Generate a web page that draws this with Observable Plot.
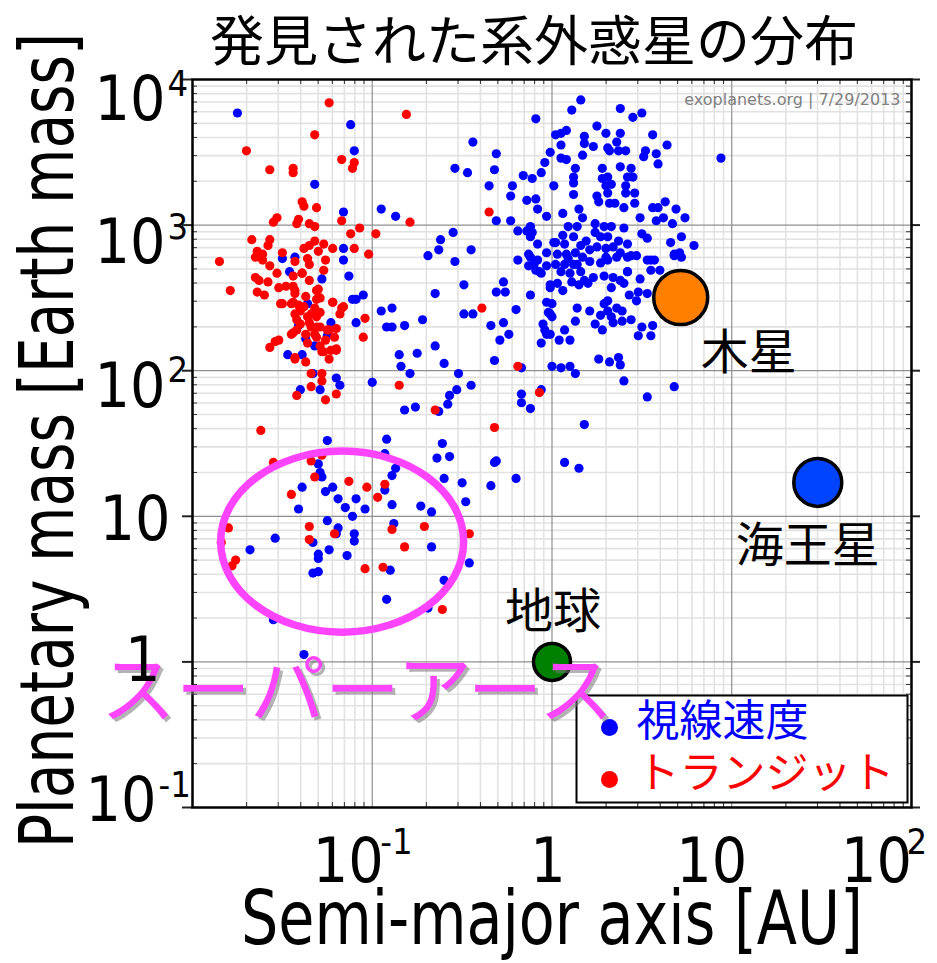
<!DOCTYPE html>
<html><head><meta charset="utf-8">
<script src="https://cdn.jsdelivr.net/npm/d3@7"></script>
<script src="https://cdn.jsdelivr.net/npm/@observablehq/plot@0.6"></script>
<style>
html,body{margin:0;padding:0;background:#fff;}
#chart{width:937px;height:963px;}
</style></head><body><div id="chart"></div>
<script>
// ---------- DATA ----------
// Each point: [log10 semi-major axis (AU), log10 planetary mass (Earth masses)]
const radialVelocityPoints = [
[-1.75,3.77],[-1.12,3.69],[-1.10,3.51],[-1.32,3.28],[-1.16,3.09],[-0.95,3.11],[-0.87,3.06],[-1.16,2.84],[-1.16,2.76],[-1.13,2.65],
[-1.43,2.78],[-1.50,2.77],[-1.46,2.68],[-1.28,2.63],[-1.05,2.52],[-1.11,2.49],[-1.09,2.49],[-1.36,2.46],[-1.23,2.33],[-1.25,2.24],
[-1.41,2.31],[-1.37,2.22],[-1.32,2.17],[-1.47,2.11],[-1.39,2.11],[-1.09,2.33],[-0.95,2.41],[-0.89,2.43],[-0.92,2.30],[-0.89,2.30],
[-0.82,2.31],[-0.72,2.35],[-0.65,2.53],[-0.69,2.79],[-0.63,2.83],[-0.62,2.90],[-0.55,2.95],[-0.54,2.75],[-0.45,2.83],[-0.49,2.59],
[-0.49,2.39],[-0.44,2.39],[-0.65,2.17],[-0.75,2.12],[-0.85,2.11],[-0.84,2.03],[-0.79,1.98],[-0.60,2.05],[-0.52,1.98],[-0.45,1.90],
[-0.53,1.87],[-0.57,1.83],[-0.58,1.77],[-0.63,1.72],[-0.76,1.75],[-0.82,1.73],[-1.00,1.92],[-1.20,1.95],[-1.18,1.90],[-1.29,1.87],
[-1.33,1.98],[-1.40,1.87],[-0.54,3.39],[-0.47,3.36],[-0.44,3.57],[-0.31,3.49],[-0.32,3.38],[-0.35,3.27],[-0.22,3.27],[-0.23,3.20],
[-0.31,3.03],[-0.23,3.03],[-0.09,3.73],[-0.19,2.76],[-0.12,2.52],[-0.27,2.61],[-0.31,2.54],[-0.26,2.54],[-0.20,2.42],[-0.27,2.33],
[-0.34,2.31],[-0.24,2.25],[-0.29,2.21],[-0.32,2.07],[-0.17,2.02],[-0.17,1.84],[-0.17,1.78],[-0.12,1.74],[-0.06,1.87],[-0.06,2.19],
[0.00,2.03],[-0.16,3.34],[-0.11,3.32],[-0.06,3.36],[-0.14,3.17],[-0.08,3.11],[-0.03,3.06],[0.01,3.27],[-0.04,3.43],[-0.01,3.50],
[-0.14,2.96],[-0.19,2.96],[-0.12,2.92],[-0.08,2.87],[-0.03,2.81],[-0.13,2.80],[-0.10,2.73],[-0.07,2.68],[0.01,2.88],[-0.01,2.57],
[-0.03,2.47],[-0.01,2.39],[-0.05,2.32],[-0.03,2.25],[-0.92,1.53],[-1.25,1.52],[0.16,3.86],[0.11,3.79],[0.38,3.80],[0.45,3.74],
[0.50,3.77],[0.25,3.68],[0.08,3.65],[0.05,3.63],[0.02,3.62],[0.18,3.61],[0.30,3.63],[0.38,3.63],[0.36,3.57],[0.56,3.62],
[0.64,3.55],[0.18,3.56],[0.23,3.54],[0.31,3.53],[0.32,3.51],[0.37,3.51],[0.41,3.51],[0.52,3.51],[0.51,3.47],[0.58,3.49],
[0.59,3.42],[0.05,3.55],[0.05,3.46],[0.08,3.45],[0.17,3.48],[0.13,3.39],[0.12,3.33],[0.12,3.29],[0.12,3.21],[0.28,3.39],
[0.38,3.40],[0.44,3.39],[0.28,3.32],[0.31,3.33],[0.33,3.28],[0.30,3.27],[0.42,3.33],[0.45,3.33],[0.41,3.27],[0.41,3.22],
[0.46,3.22],[0.25,3.20],[0.31,3.22],[0.26,3.16],[0.32,3.15],[0.35,3.15],[0.40,3.12],[0.46,3.15],[-0.09,3.18],[0.06,3.08],
[0.15,3.11],[0.17,3.05],[0.56,3.12],[0.63,3.16],[0.59,3.12],[0.69,3.11],[0.74,3.05],[0.67,3.01],[0.62,3.05],[0.58,3.03],
[0.49,3.05],[0.72,2.92],[0.79,2.86],[0.66,2.88],[0.68,2.80],[0.71,2.81],[0.50,2.94],[0.53,2.91],[0.44,2.79],[0.47,2.79],
[0.55,2.76],[-0.12,2.99],[-0.11,2.95],[0.02,2.88],[0.06,2.93],[0.09,2.99],[0.14,2.99],[0.07,2.87],[0.12,2.92],[0.16,2.86],
[0.19,2.89],[0.24,3.01],[0.24,2.95],[0.29,2.99],[0.33,2.99],[0.40,2.98],[0.27,2.92],[0.31,2.92],[0.37,2.89],[0.42,2.87],
[0.21,2.83],[0.25,2.85],[0.30,2.84],[0.34,2.85],[0.38,2.81],[0.03,2.80],[0.08,2.80],[0.13,2.81],[0.17,2.78],[0.02,2.73],
[0.07,2.73],[0.12,2.73],[0.21,2.75],[0.27,2.74],[0.31,2.76],[-0.12,2.78],[-0.08,2.76],[-0.13,2.72],[-0.03,2.72],[-0.09,2.69],
[-0.06,2.67],[0.09,2.77],[0.14,2.73],[0.30,2.78],[0.36,2.78],[0.42,2.78],[0.53,2.76],[0.57,2.76],[0.60,2.69],[0.55,2.69],
[0.68,2.79],[0.05,2.68],[0.10,2.67],[0.16,2.68],[0.18,2.62],[0.23,2.64],[0.29,2.65],[0.34,2.64],[0.38,2.62],[0.42,2.68],
[0.49,2.63],[-0.01,2.59],[0.03,2.60],[0.06,2.55],[0.11,2.61],[0.15,2.59],[0.20,2.60],[0.33,2.57],[0.40,2.60],[0.43,2.52],
[0.48,2.54],[0.53,2.53],[0.47,2.48],[0.00,2.46],[-0.02,2.40],[0.00,2.37],[-0.04,2.28],[-0.01,2.25],[0.04,2.21],[0.07,2.28],
[0.10,2.21],[0.14,2.43],[0.13,2.34],[0.21,2.41],[0.24,2.32],[0.28,2.28],[0.27,2.38],[0.29,2.46],[0.31,2.48],[0.31,2.41],
[0.33,2.37],[0.36,2.43],[0.39,2.41],[0.34,2.33],[0.39,2.34],[0.44,2.35],[0.50,2.30],[0.56,2.31],[0.55,2.24],[0.48,2.24],
[0.26,2.08],[0.32,2.06],[0.37,2.09],[0.38,2.04],[0.05,2.02],[0.10,2.03],[0.13,1.98],[0.40,1.93],[0.53,1.82],[0.68,1.89],
[0.18,1.63],[-0.32,1.37],[-0.31,1.38],[0.07,1.37],[0.15,1.33],[-0.20,1.26],[0.94,3.46],[0.72,2.78],[0.42,2.68],[-0.61,1.50],
[-0.64,1.40],[-0.57,1.41],[-0.87,1.33],[-0.89,1.28],[-0.60,1.26],[-0.93,1.43],[-1.30,1.36],[-1.29,1.30],[-1.28,1.27],[-1.39,1.20],
[-1.26,1.17],[-1.22,1.20],[-1.19,1.12],[-1.09,1.12],[-1.15,1.06],[-1.04,1.05],[-1.11,1.00],[-0.93,1.18],[-0.89,1.08],[-0.73,1.07],
[-0.67,1.03],[-1.41,1.05],[-1.25,0.97],[-1.19,0.92],[-1.20,0.88],[-1.10,0.88],[-1.10,0.83],[-1.33,0.82],[-1.54,0.85],[-1.68,0.77],
[-1.24,0.77],[-1.30,0.74],[-1.30,0.71],[-1.14,0.73],[-1.33,0.61],[-1.30,0.62],[-0.88,0.95],[-0.67,0.79],[-0.46,0.68],[-0.90,0.63],
[-0.60,0.56],[-0.92,0.43],[-0.69,0.37],[-1.55,0.29],[-0.50,1.23],[-0.48,1.10],[-0.34,1.21],[-1.38,0.05]
];
const transitPoints = [
[-1.24,3.84],[-0.81,3.76],[-1.70,3.51],[-1.32,3.62],[-1.57,3.38],[-1.44,3.39],[-1.44,3.36],[-1.17,3.45],[-1.10,3.43],[-1.11,3.39],
[-1.39,3.16],[-1.38,3.13],[-1.31,3.12],[-1.53,3.05],[-1.55,3.02],[-1.41,3.04],[-1.42,3.01],[-1.35,3.01],[-1.32,2.99],[-1.17,3.03],
[-1.07,2.98],[-1.12,2.94],[-0.98,2.94],[-0.79,3.02],[-1.02,2.80],[-1.10,2.84],[-1.67,2.90],[-1.57,2.90],[-1.58,2.86],[-1.64,2.82],
[-1.61,2.80],[-1.65,2.78],[-1.61,2.76],[-1.85,2.75],[-1.50,2.81],[-1.43,2.75],[-1.36,2.77],[-1.35,2.86],[-1.32,2.89],[-1.38,2.84],
[-1.27,2.87],[-1.22,2.84],[-1.30,2.82],[-1.26,2.76],[-1.27,2.69],[-1.57,2.72],[-1.53,2.67],[-1.65,2.64],[-1.63,2.62],[-1.58,2.61],
[-1.44,2.65],[-1.39,2.67],[-1.35,2.62],[-1.79,2.55],[-1.64,2.54],[-1.60,2.52],[-1.52,2.57],[-1.51,2.46],[-1.48,2.58],[-1.43,2.55],
[-1.31,2.55],[-1.29,2.50],[-1.22,2.47],[-1.16,2.44],[-1.18,2.39],[-1.04,2.36],[-1.05,2.23],[-1.45,2.46],[-1.41,2.45],[-1.38,2.44],
[-1.32,2.43],[-1.43,2.39],[-1.36,2.37],[-1.31,2.37],[-1.40,2.32],[-1.34,2.30],[-1.29,2.30],[-1.32,2.25],[-1.25,2.28],[-1.20,2.29],
[-1.21,2.23],[-1.45,2.25],[-1.42,2.28],[-1.36,2.19],[-1.29,2.17],[-1.23,2.14],[-1.27,2.13],[-1.20,2.14],[-1.24,2.08],[-1.57,2.16],
[-1.54,2.20],[-1.52,2.21],[-1.43,2.09],[-1.37,2.06],[-1.34,1.98],[-1.28,1.98],[-1.28,1.93],[-1.34,1.89],[-1.42,1.83],[-1.26,1.80],
[-1.20,1.84],[-0.39,2.43],[-0.35,3.09],[-0.85,1.90],[-0.65,1.73],[-0.19,2.03],[-0.07,1.85],[-0.32,1.61],[-1.62,1.59],[-1.55,1.37],
[-1.34,1.38],[-1.28,1.42],[-1.32,1.27],[-1.13,1.24],[-1.03,1.20],[-0.93,1.22],[-0.97,1.13],[-1.45,1.15],[-1.35,0.93],[-1.35,0.84],
[-1.21,0.88],[-0.89,0.91],[-0.71,0.93],[-0.82,0.79],[-0.46,0.88],[-1.80,0.92],[-1.76,0.70],[-1.78,0.66],[-1.04,0.64],[-0.94,0.65],
[-0.61,0.36],[-1.84,0.82],
[-1.44,2.58],[-1.39,2.67],[-1.30,2.56],[-1.43,2.53],[-1.37,2.51],[-1.31,2.49],[-1.50,2.46],[-1.44,2.47],[-1.40,2.41],[-1.34,2.39],
[-1.29,2.40],[-1.22,2.47],[-1.17,2.43],[-1.42,2.35],[-1.35,2.33],[-1.31,2.30],[-1.24,2.28],[-1.37,2.25],[-1.31,2.23],[-1.26,2.21],
[-1.44,2.26],[-1.28,2.13],[-1.20,2.15],[-1.43,2.08],[-1.35,2.73]
];
// Solar-system reference planets
const planetNames = ["木星", "海王星", "地球"];
const planetA = [5.2, 30.1, 1.0];        // AU
const planetM = [317.8, 17.1, 1.0];      // Earth masses
const planetColors = ["#ff8000", "#0044ff", "#008000"];
// Super-Earth annotation (center of the ellipse)
const superEarthLabel = "スーパーアース";
const superEarthA = 0.068, superEarthM = 6.7;
// Axis ticks
const xTickValues = [0.1, 1, 10, 100];
const xTickBase = ["10", "1", "10", "10"];
const xTickExp = ["-1", "", "", "2"];
const yTickValues = [1e4, 1e3, 1e2, 10, 1, 0.1];
const yTickBase = ["10", "10", "10", "10", "1", "10"];
const yTickExp = ["4", "3", "2", "", "", "-1"];
const titleText = "発見された系外惑星の分布";
const xTitle = "Semi-major axis [AU]";
const yTitle = "Planetary mass [Earth mass]";
const sourceText = "exoplanets.org | 7/29/2013";
const legendLabels = ["視線速度", "トランジット"];

// ---------- LAYOUT / STYLE ----------
const BLUE = "#0000ff", RED = "#ff0000", MAGENTA = "#ff44ff";
const LATIN = '"Liberation Sans Narrow", "Arial Narrow", "DejaVu Sans Condensed", "Liberation Sans", sans-serif';
const CJK = '"Noto Sans CJK JP", "Noto Sans CJK SC", sans-serif';
const mL = 192, mR = 26, mT = 79, mB = 156, W = 937, H = 963;
const fw = W - mL - mR, fh = H - mT - mB;
const planetR = [27, 24, 18.5];
const planetLabelDx = [68, -10, 1];
const planetLabelDy = [56, 64, -49];
const xBaseDx = [-24, -4, -20, -35];
const xExpDx = [8, 0, 0, -5];
const yBaseDx = [-27, -27, -27, -22, -32, -36];
const yExpDx = [-25, -25, -25, 0, 0, -34];
const yBaseDy = [21, 18, 16, 4, -1, -6];
const mid = {lineAnchor: "middle"};

const toPoint = ([la, lm]) => ({a: 10 ** la, m: 10 ** lm});
const rv = radialVelocityPoints.map(toPoint);
const tr = transitPoints.map(toPoint);

const decadesX = d3.range(-2, 2), decadesY = d3.range(-1, 4);
const minorX = decadesX.flatMap(e => d3.range(2, 10).map(k => k * 10 ** e));
const minorY = decadesY.flatMap(e => d3.range(2, 10).map(k => k * 10 ** e));
const majorX = [0.01, 0.1, 1, 10, 100];
const majorY = [0.1, 1, 10, 100, 1000, 10000];

// ellipse symbol for the annotation
const ellipseSymbol = {
  draw(context, size) {
    const rx = Math.sqrt(size / Math.PI), ry = rx * 0.745, k = 0.5522847498;
    context.moveTo(rx, 0);
    context.bezierCurveTo(rx, k * ry, k * rx, ry, 0, ry);
    context.bezierCurveTo(-k * rx, ry, -rx, k * ry, -rx, 0);
    context.bezierCurveTo(-rx, -k * ry, -k * rx, -ry, 0, -ry);
    context.bezierCurveTo(k * rx, -ry, rx, -k * ry, rx, 0);
    context.closePath();
  }
};

const marks = [
  Plot.ruleX(minorX, {stroke: "#e2e2e2", strokeWidth: 1.6}),
  Plot.ruleY(minorY, {stroke: "#e2e2e2", strokeWidth: 1.6}),
  Plot.ruleX(majorX, {stroke: "#8f8f8f", strokeWidth: 1.2}),
  Plot.ruleY(majorY, {stroke: "#8f8f8f", strokeWidth: 1.2}),
  Plot.tickX(minorX, {x: d => d, insetBottom: fh - 5, stroke: "#333"}),
  Plot.tickX(minorX, {x: d => d, insetTop: fh - 5, stroke: "#333"}),
  Plot.tickY(minorY, {y: d => d, insetRight: fw - 5, stroke: "#333"}),
  Plot.tickY(minorY, {y: d => d, insetLeft: fw - 5, stroke: "#333"}),
  Plot.tickY(majorY, {y: d => d, insetLeft: -10, insetRight: fw, stroke: "#222", strokeWidth: 2}),
  Plot.tickY(majorY, {y: d => d, insetLeft: fw, insetRight: -9, stroke: "#222", strokeWidth: 2}),
  Plot.frame({stroke: "black", strokeWidth: 2.5}),
  Plot.dot(rv, {x: "a", y: "m", r: 4.6, fill: BLUE}),
  Plot.dot(tr, {x: "a", y: "m", r: 4.6, fill: RED}),
  Plot.dot([{a: superEarthA, m: superEarthM}], {x: "a", y: "m", r: 121.5, symbol: ellipseSymbol, fill: "none", stroke: MAGENTA, strokeWidth: 7.5}),
  ...planetNames.map((n, i) => Plot.dot([{a: planetA[i], m: planetM[i]}], {x: "a", y: "m", r: planetR[i], fill: planetColors[i], stroke: "black", strokeWidth: 3.5})),
  ...planetNames.map((n, i) => Plot.text([{a: planetA[i], m: planetM[i]}], {x: "a", y: "m", text: () => n, dx: planetLabelDx[i], dy: planetLabelDy[i], fontSize: 48, fontFamily: CJK, fill: "black"})),
  // legend box
  Plot.frame({fill: "white", stroke: "black", strokeWidth: 2, insetLeft: 384, insetRight: 4, insetTop: 616, insetBottom: 5}),
  ...legendLabels.map((l, i) => Plot.dot([l], {frameAnchor: "top-left", dx: 417, dy: 648 + 52 * i, r: 8.5, fill: i ? RED : BLUE})),
  ...legendLabels.map((l, i) => Plot.text([l], {frameAnchor: "top-left", dx: 444, dy: 643 + 52 * i, textAnchor: "start", ...mid, fontSize: 43, fontFamily: CJK, fill: i ? RED : BLUE})),
  // super-earth label with shadow
  Plot.text([{a: superEarthA, m: superEarthM}], {x: "a", y: "m", text: () => superEarthLabel, dx: 18, dy: 154, fontSize: 75, fontFamily: CJK, fill: "#777", fillOpacity: 0.55}),
  Plot.text([{a: superEarthA, m: superEarthM}], {x: "a", y: "m", text: () => superEarthLabel, dx: 15, dy: 151, fontSize: 75, fontFamily: CJK, fill: MAGENTA}),
  // source watermark
  Plot.text([sourceText], {frameAnchor: "top-right", dx: -11, dy: 20, textAnchor: "end", ...mid, fontSize: 16, fontFamily: '"DejaVu Sans", sans-serif', fill: "#808080"}),
  // x tick labels
  ...xTickValues.map((v, i) => Plot.text([v], {x: d => d, frameAnchor: "bottom", text: () => xTickBase[i], dx: xBaseDx[i], dy: 55, textAnchor: "middle", ...mid, fontSize: 62, fontFamily: LATIN, fill: "black"})),
  ...xTickValues.filter((v, i) => xTickExp[i]).map(v => {
    const i = xTickValues.indexOf(v);
    return Plot.text([v], {x: d => d, frameAnchor: "bottom", text: () => xTickExp[i], dx: xExpDx[i], dy: 35, textAnchor: "start", ...mid, fontSize: 36, fontFamily: LATIN, fill: "black"});
  }),
  // y tick labels
  ...yTickValues.map((v, i) => Plot.text([v], {y: d => d, frameAnchor: "left", text: () => yTickBase[i], dx: yBaseDx[i], dy: yBaseDy[i], textAnchor: "end", ...mid, fontSize: 62, fontFamily: LATIN, fill: "black"})),
  ...yTickValues.filter((v, i) => yTickExp[i]).map(v => {
    const i = yTickValues.indexOf(v);
    return Plot.text([v], {y: d => d, frameAnchor: "left", text: () => yTickExp[i], dx: yExpDx[i], dy: yBaseDy[i] - 16, textAnchor: "start", ...mid, fontSize: 36, fontFamily: LATIN, fill: "black"});
  }),
  // axis titles and chart title
  Plot.text([xTitle], {frameAnchor: "bottom", dx: 0, dy: 113, textAnchor: "middle", ...mid, fontSize: 74, fontFamily: LATIN, fill: "black"}),
  Plot.text([yTitle], {frameAnchor: "left", dx: -143, dy: -3, rotate: -90, textAnchor: "middle", ...mid, fontSize: 74, fontFamily: LATIN, fill: "black"}),
  Plot.text([titleText], {frameAnchor: "top", dx: -18, dy: -36, textAnchor: "middle", ...mid, fontSize: 54, fontFamily: CJK, fill: "black"})
];

const chart = Plot.plot({
  width: W, height: H,
  marginLeft: mL, marginRight: mR, marginTop: mT, marginBottom: mB,
  x: {type: "log", domain: [0.01, 100], axis: null},
  y: {type: "log", domain: [0.1, 1e4], axis: null},
  style: {background: "white", color: "black", fontFamily: LATIN, overflow: "visible"},
  marks
});
// condense the axis titles to the reference's narrow lettering
const fitText = (str, len) => d3.select(chart).selectAll("text")
  .filter(function () { return this.textContent === str; })
  .attr("textLength", len).attr("lengthAdjust", "spacingAndGlyphs");
fitText(xTitle, 622);
fitText(yTitle, 815);
document.getElementById("chart").appendChild(chart);
</script></body></html>
